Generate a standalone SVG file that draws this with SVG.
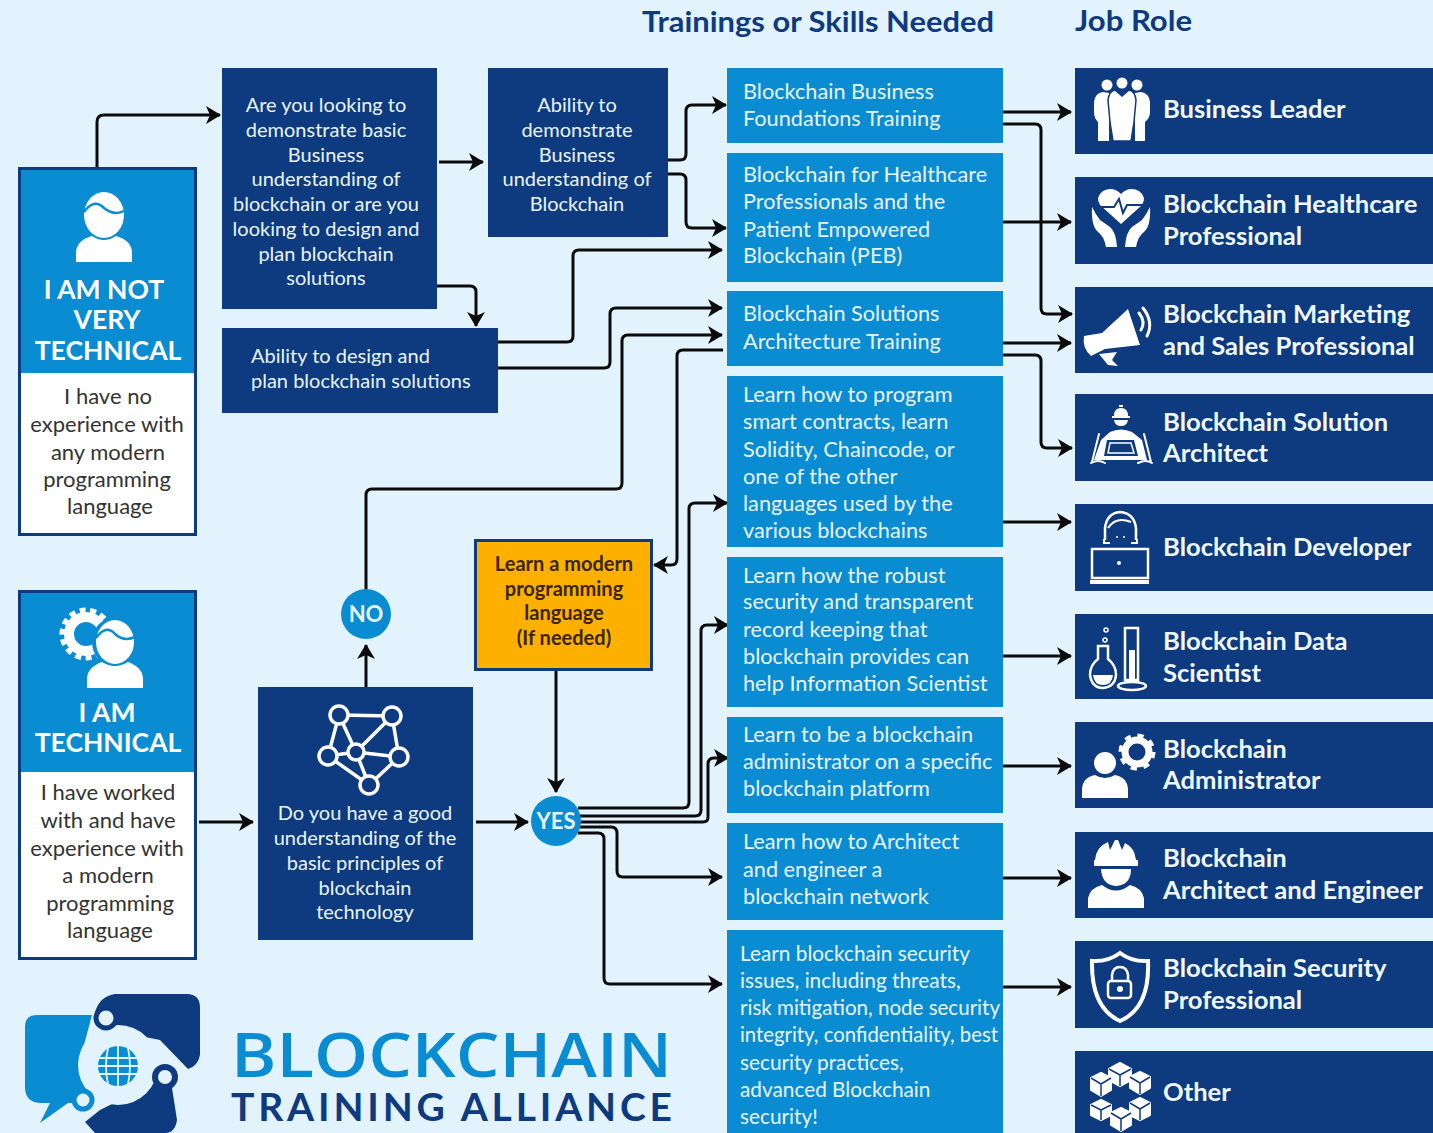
<svg xmlns="http://www.w3.org/2000/svg" width="1433" height="1133" viewBox="0 0 1433 1133">
<style>
text{font-family:"Lato","Open Sans","Liberation Sans",sans-serif}
.navy{fill:#0e3a80}.blue{fill:#0a8cd3}
.t{fill:#e8f5fd;font-size:20px;text-anchor:middle}
.b{fill:#e8f5fd;font-size:21.7px}
.s{fill:#e8f5fd;font-size:20.8px}
.j{fill:#eef8fe;font-size:25.6px;font-weight:700}
.h{fill:#fff;font-size:26.5px;font-weight:700;text-anchor:middle}
.d{fill:#333;font-size:22px;text-anchor:middle}
.o{fill:#3a2508;font-size:20px;font-weight:700;text-anchor:middle}
.c{fill:none;stroke:#0b0b0b;stroke-width:3;stroke-linejoin:round}
.w{fill:#fff}.ln{fill:none;stroke:#fff;stroke-width:3;stroke-linecap:round;stroke-linejoin:round}
.title{fill:#0e3a80;font-size:28px;font-weight:700}
</style>
<defs>
<marker id="a" markerUnits="userSpaceOnUse" markerWidth="18" markerHeight="20" refX="14" refY="9" orient="auto"><path d="M0 0L15 9L0 18L4 9Z" fill="#0b0b0b"/></marker>
</defs>
<rect width="1433" height="1133" fill="#e2f3fd"/>
<text class="title" x="642" y="32" textLength="352" lengthAdjust="spacingAndGlyphs">Trainings or Skills Needed</text>
<text class="title" x="1075" y="31" textLength="117" lengthAdjust="spacingAndGlyphs">Job Role</text>

<g id="connectors">
<path class="c" d="M97 167V122Q97 115 104 115H220" marker-end="url(#a)"/>
<path class="c" d="M439 162H483" marker-end="url(#a)"/>
<path class="c" d="M437 286H470Q476 286 476 292V326" marker-end="url(#a)"/>
<path class="c" d="M668 160H680Q686 160 686 154V111Q686 105 692 105H726" marker-end="url(#a)"/>
<path class="c" d="M668 174H680Q686 174 686 180V222Q686 228 692 228H726" marker-end="url(#a)"/>
<path class="c" d="M497 342H567Q573 342 573 336V256Q573 250 579 250H722" marker-end="url(#a)"/>
<path class="c" d="M497 368H604Q610 368 610 362V314Q610 308 616 308H722" marker-end="url(#a)"/>
<path class="c" d="M366 590V495Q366 489 372 489H616Q622 489 622 483V341Q622 335 628 335H722" marker-end="url(#a)"/>
<path class="c" d="M723 350H683Q677 350 677 356V559Q677 565 671 565H654" marker-end="url(#a)"/>
<path class="c" d="M556 670V792" marker-end="url(#a)"/>
<path class="c" d="M366 687V645" marker-end="url(#a)"/>
<path class="c" d="M199 822H253" marker-end="url(#a)"/>
<path class="c" d="M476 822H528" marker-end="url(#a)"/>
<path class="c" d="M578 808H683Q689 808 689 802V509Q689 503 695 503H727" marker-end="url(#a)"/>
<path class="c" d="M580 816H695Q701 816 701 810V631Q701 625 707 625H728" marker-end="url(#a)"/>
<path class="c" d="M580 822H703Q708 822 708 817V764Q708 758 714 758H728" marker-end="url(#a)"/>
<path class="c" d="M580 827H611Q617 827 617 833V871Q617 877 623 877H722" marker-end="url(#a)"/>
<path class="c" d="M578 833H598Q604 833 604 839V978Q604 984 610 984H722" marker-end="url(#a)"/>
<path class="c" d="M1003 112H1071" marker-end="url(#a)"/>
<path class="c" d="M1003 124H1035Q1041 124 1041 130V308Q1041 314 1047 314H1072" marker-end="url(#a)"/>
<path class="c" d="M1003 222H1071" marker-end="url(#a)"/>
<path class="c" d="M1003 343H1071" marker-end="url(#a)"/>
<path class="c" d="M1003 355H1035Q1041 355 1041 361V442Q1041 448 1047 448H1072" marker-end="url(#a)"/>
<path class="c" d="M1003 522H1071" marker-end="url(#a)"/>
<path class="c" d="M1003 656H1071" marker-end="url(#a)"/>
<path class="c" d="M1003 766H1071" marker-end="url(#a)"/>
<path class="c" d="M1003 878H1071" marker-end="url(#a)"/>
<path class="c" d="M1003 987H1071" marker-end="url(#a)"/>
</g>

<g id="not-technical">
<rect x="19.5" y="168.5" width="176" height="366" fill="#fff" stroke="#0e3a80" stroke-width="3"/>
<rect x="21" y="170" width="173" height="203" class="blue"/>
<ellipse cx="104" cy="215" rx="20" ry="23" class="w"/>
<path class="w" d="M76 262V252Q77 240 92 236Q104 244 116 236Q131 240 132 252V262Z"/>
<path d="M84 212Q94 198 104 208Q114 216 124 211" fill="none" stroke="#0a8cd3" stroke-width="2.5"/>
<text class="h" x="104" y="299">I AM NOT</text><text class="h" x="107" y="329">VERY</text><text class="h" x="108" y="360">TECHNICAL</text>
<text class="d" x="108" y="404">I have no</text><text class="d" x="107" y="432">experience with</text><text class="d" x="108" y="460">any modern</text><text class="d" x="107" y="487">programming</text><text class="d" x="110" y="514">language</text>
</g>

<g id="technical">
<rect x="19.5" y="591.5" width="176" height="367" fill="#fff" stroke="#0e3a80" stroke-width="3"/>
<rect x="21" y="593" width="173" height="179" class="blue"/>
<circle cx="86" cy="634" r="17" fill="none" stroke="#fff" stroke-width="10"/>
<circle cx="86" cy="634" r="24" fill="none" stroke="#fff" stroke-width="5" stroke-dasharray="6 4.6"/>
<ellipse cx="115" cy="642" rx="23" ry="25" class="blue"/>
<ellipse cx="115" cy="642" rx="19" ry="22" class="w"/>
<path class="w" d="M87 688V678Q88 667 102 662Q115 670 128 662Q142 667 143 678V688Z"/>
<path d="M96 638Q106 624 115 634Q124 642 135 637" fill="none" stroke="#0a8cd3" stroke-width="2.5"/>
<text class="h" x="107" y="722">I AM</text><text class="h" x="108" y="752">TECHNICAL</text>
<text class="d" x="108" y="800">I have worked</text><text class="d" x="108" y="828">with and have</text><text class="d" x="107" y="856">experience with</text><text class="d" x="108" y="883">a modern</text><text class="d" x="110" y="911">programming</text><text class="d" x="110" y="938">language</text>
</g>

<g id="q-demonstrate">
<rect x="222" y="68" width="215" height="241" class="navy"/>
<text class="t" x="326" y="112">Are you looking to</text><text class="t" x="326" y="137">demonstrate basic</text><text class="t" x="326" y="162">Business</text><text class="t" x="326" y="186">understanding of</text><text class="t" x="326" y="211">blockchain or are you</text><text class="t" x="326" y="236">looking to design and</text><text class="t" x="326" y="261">plan blockchain</text><text class="t" x="326" y="285">solutions</text>
</g>
<g id="ability-business">
<rect x="488" y="68" width="180" height="169" class="navy"/>
<text class="t" x="577" y="112">Ability to</text><text class="t" x="577" y="137">demonstrate</text><text class="t" x="577" y="162">Business</text><text class="t" x="577" y="186">understanding of</text><text class="t" x="577" y="211">Blockchain</text>
</g>
<g id="ability-design">
<rect x="222" y="328" width="276" height="85" class="navy"/>
<text class="t" x="251" y="363" style="text-anchor:start">Ability to  design and</text><text class="t" x="251" y="388" style="text-anchor:start">plan blockchain solutions</text>
</g>
<g id="q-understanding">
<rect x="258" y="687" width="215" height="253" class="navy"/>
<path d="M339 715L392 716L399 757L369 785L328 756ZM339 715L356 752L392 716M328 756L356 752L399 757M356 752L369 785" fill="none" stroke="#fff" stroke-width="3.5"/>
<g fill="#0e3a80" stroke="#fff" stroke-width="3.5"><circle cx="339" cy="715" r="9"/><circle cx="392" cy="716" r="9"/><circle cx="328" cy="756" r="9"/><circle cx="356" cy="752" r="8"/><circle cx="399" cy="757" r="9"/><circle cx="369" cy="785" r="9"/></g>
<text class="t" x="365" y="820">Do you have a good</text><text class="t" x="365" y="845">understanding of the</text><text class="t" x="365" y="870">basic principles of</text><text class="t" x="365" y="895">blockchain</text><text class="t" x="365" y="919">technology</text>
</g>
<g id="learn-language">
<rect x="475.500" y="540.500" width="176" height="129" fill="#fdb000" stroke="#0e3a80" stroke-width="3"/>
<text class="o" x="564" y="571">Learn a modern</text><text class="o" x="564" y="596">programming</text><text class="o" x="564" y="620">language</text><text class="o" x="564" y="645">(If needed)</text>
</g>
<g id="no"><circle cx="366" cy="614" r="25" class="blue"/><text x="366" y="622" fill="#e8f5fd" font-size="22" font-weight="700" text-anchor="middle">NO</text></g>
<g id="yes"><circle cx="556" cy="821" r="25" class="blue"/><text x="556" y="829" fill="#e8f5fd" font-size="22" font-weight="700" text-anchor="middle">YES</text></g>

<g id="t1"><rect x="727" y="68" width="276" height="75" class="blue"/><text class="b" x="743" y="99">Blockchain Business</text><text class="b" x="743" y="126">Foundations Training</text></g>
<g id="t2"><rect x="727" y="153" width="276" height="129" class="blue"/><text class="b" x="743" y="182">Blockchain for Healthcare</text><text class="b" x="743" y="209">Professionals and the</text><text class="b" x="743" y="237">Patient Empowered</text><text class="b" x="743" y="263">Blockchain (PEB)</text></g>
<g id="t3"><rect x="727" y="291" width="276" height="75" class="blue"/><text class="b" x="743" y="321">Blockchain Solutions</text><text class="b" x="743" y="349">Architecture Training</text></g>
<g id="t4"><rect x="727" y="376" width="276" height="171" class="blue"/><text class="b" x="743" y="402">Learn how to program</text><text class="b" x="743" y="429">smart contracts, learn</text><text class="b" x="743" y="457">Solidity, Chaincode,  or</text><text class="b" x="743" y="484">one of the other</text><text class="b" x="743" y="511">languages used by the</text><text class="b" x="743" y="538">various blockchains</text></g>
<g id="t5"><rect x="727" y="557" width="276" height="150" class="blue"/><text class="b" x="743" y="583">Learn how the robust</text><text class="b" x="743" y="609">security and transparent</text><text class="b" x="743" y="637">record keeping that</text><text class="b" x="743" y="664">blockchain provides can</text><text class="b" x="743" y="691">help Information Scientist</text></g>
<g id="t6"><rect x="727" y="717" width="276" height="96" class="blue"/><text class="b" x="743" y="742">Learn to be a blockchain</text><text class="b" x="743" y="769">administrator on a specific</text><text class="b" x="743" y="796">blockchain platform</text></g>
<g id="t7"><rect x="727" y="823" width="276" height="97" class="blue"/><text class="b" x="743" y="849">Learn how to Architect</text><text class="b" x="743" y="877">and engineer a</text><text class="b" x="743" y="904">blockchain network</text></g>
<g id="t8"><rect x="727" y="930" width="276" height="203" class="blue"/><text class="s" x="740" y="961">Learn blockchain security</text><text class="s" x="740" y="988">issues, including threats,</text><text class="s" x="740" y="1015" textLength="260" lengthAdjust="spacingAndGlyphs">risk mitigation, node security</text><text class="s" x="740" y="1042" textLength="258" lengthAdjust="spacingAndGlyphs">integrity, confidentiality, best</text><text class="s" x="740" y="1070">security practices,</text><text class="s" x="740" y="1097">advanced Blockchain</text><text class="s" x="740" y="1124">security!</text></g>

<g id="r1"><rect x="1075" y="68" width="358" height="86" class="navy"/>
<circle cx="1107" cy="85" r="5.500" class="w"/><circle cx="1122" cy="83" r="5.500" class="w"/><circle cx="1137" cy="85" r="5.500" class="w"/>
<path class="w" d="M1094 102Q1095 93 1103 92L1109 93L1109 141H1098V122Q1094 118 1094 112ZM1150 102Q1149 93 1141 92L1135 93L1135 141H1145V122Q1150 118 1150 112Z"/>
<path class="w" stroke="#0e3a80" stroke-width="1.500" d="M1108 100Q1109 91 1115 90L1122 96L1129 90Q1135 91 1136 100L1134 122L1131 141H1113L1110 122Z"/>
<text class="j" x="1163" y="118">Business Leader</text></g>
<g id="r2"><rect x="1075" y="177" width="358" height="87" class="navy"/>
<path class="w" d="M1121 224L1100 205Q1095 197 1103 191Q1113 186 1121 194Q1129 186 1139 191Q1147 197 1142 205Z"/>
<path fill="none" stroke="#0e3a80" stroke-width="2" d="M1099 207H1114L1119 199L1123 213L1127 205H1144"/>
<path class="w" d="M1092 207Q1096 215 1100 220L1110 227Q1116 232 1117 247H1106Q1104 236 1098 232Q1091 226 1092 207ZM1150 207Q1146 215 1142 220L1132 227Q1126 232 1125 247H1136Q1138 236 1144 232Q1151 226 1150 207Z"/>
<text class="j" x="1163" y="213">Blockchain Healthcare</text><text class="j" x="1163" y="245">Professional</text></g>
<g id="r3"><rect x="1075" y="287" width="358" height="86" class="navy"/>
<path class="w" d="M1084 336L1102 333L1128 309L1140 345L1105 349L1091 356Q1082 348 1084 336ZM1099 354L1117 352L1112 360L1118 366L1108 365Z"/>
<path class="ln" d="M1139 313Q1146 322 1141 330M1143 308Q1154 322 1147 336"/>
<text class="j" x="1163" y="323">Blockchain Marketing</text><text class="j" x="1163" y="355">and Sales Professional</text></g>
<g id="r4"><rect x="1075" y="394" width="358" height="87" class="navy"/>
<path class="w" d="M1114 416Q1114 408 1121 408Q1128 408 1128 416H1130V418H1112V416ZM1114 420H1128Q1127 426 1121 426Q1115 426 1114 420ZM1119 405H1123V407H1119Z"/>
<path class="w" d="M1110 432Q1121 427 1132 432L1142 440L1147 460H1094L1101 440Z"/>
<path d="M1107 440H1134L1138 456H1104Z" fill="#0e3a80"/><path d="M1110 443H1131L1134 453H1108Z" fill="none" stroke="#fff" stroke-width="1.500"/>
<path class="ln" style="stroke-width:2" d="M1099 434L1092 462M1144 434L1151 462M1091 463Q1098 459 1105 463M1138 463Q1146 459 1152 463"/>
<text class="j" x="1163" y="431">Blockchain Solution</text><text class="j" x="1163" y="462">Architect</text></g>
<g id="r5"><rect x="1075" y="504" width="358" height="87" class="navy"/>
<path d="M1105 540V528Q1107 513 1120 512Q1134 513 1136 528V540" fill="none" stroke="#fff" stroke-width="2.500"/>
<path d="M1108 528Q1116 516 1131 522" fill="none" stroke="#fff" stroke-width="2"/>
<path d="M1104 539V543H1110M1137 539V543H1131" fill="none" stroke="#fff" stroke-width="2"/>
<circle cx="1117" cy="537" r="1" class="w"/><circle cx="1124" cy="537" r="1" class="w"/>
<rect x="1092" y="549" width="56" height="29" fill="none" stroke="#fff" stroke-width="2.500"/>
<path class="w" d="M1090 580H1149V584H1090Z"/><circle cx="1119" cy="563" r="2" class="w"/>
<text class="j" x="1163" y="556">Blockchain Developer</text></g>
<g id="r6"><rect x="1075" y="614" width="358" height="85" class="navy"/>
<circle cx="1106" cy="630" r="2" fill="none" stroke="#fff" stroke-width="1.500"/><circle cx="1105" cy="640" r="2" fill="none" stroke="#fff" stroke-width="1.500"/>
<path fill="none" stroke="#fff" stroke-width="2.500" d="M1098 646V659Q1090 665 1090 675Q1092 688 1103 688Q1115 687 1116 675Q1116 665 1108 659V646Z"/>
<path class="w" d="M1093 675H1113Q1112 685 1103 685Q1094 685 1093 675Z"/>
<path fill="none" stroke="#fff" stroke-width="2.500" d="M1125 628H1138V680H1125Z"/><rect x="1129" y="650" width="6" height="30" class="w"/>
<ellipse cx="1132" cy="686" rx="14" ry="4" fill="none" stroke="#fff" stroke-width="2.500"/>
<text class="j" x="1163" y="650">Blockchain Data</text><text class="j" x="1163" y="682">Scientist</text></g>
<g id="r7"><rect x="1075" y="722" width="358" height="86" class="navy"/>
<circle cx="1105" cy="763" r="11" class="w"/><path class="w" d="M1082 798V789Q1083 777 1095 775Q1105 781 1115 775Q1127 777 1128 789V798Z"/>
<circle cx="1137" cy="752" r="12" fill="none" stroke="#fff" stroke-width="7"/><circle cx="1137" cy="752" r="16" fill="none" stroke="#fff" stroke-width="5" stroke-dasharray="6 6.560"/>
<text class="j" x="1163" y="758">Blockchain</text><text class="j" x="1163" y="789">Administrator</text></g>
<g id="r8"><rect x="1075" y="832" width="358" height="86" class="navy"/>
<path class="w" d="M1095 860Q1096 847 1108 842L1110 850L1115 840H1118L1122 850L1125 843Q1135 848 1136 860H1138V866H1094V860Z"/>
<path class="w" d="M1101 869H1131Q1131 885 1116 886Q1102 885 1101 869Z"/>
<path class="w" d="M1088 908V898Q1090 888 1102 885Q1116 896 1130 885Q1142 888 1144 898V908Z"/>
<text class="j" x="1163" y="867">Blockchain</text><text class="j" x="1163" y="899">Architect and Engineer</text></g>
<g id="r9"><rect x="1075" y="941" width="358" height="87" class="navy"/>
<path fill="none" stroke="#fff" stroke-width="4" d="M1120 953Q1132 962 1148 961Q1150 1008 1120 1021Q1091 1008 1092 961Q1108 962 1120 953Z"/>
<rect x="1108" y="981" width="23" height="17" rx="3" fill="none" stroke="#fff" stroke-width="2.500"/>
<path d="M1112 981V975Q1113 967 1120 967Q1127 967 1128 975V981" fill="none" stroke="#fff" stroke-width="2.500"/><circle cx="1120" cy="989" r="3" class="w"/>
<text class="j" x="1163" y="977">Blockchain Security</text><text class="j" x="1163" y="1009">Professional</text></g>
<g id="r10"><rect x="1075" y="1051" width="358" height="82" class="navy"/>
<g fill="none" stroke="#fff" stroke-width="2" stroke-linejoin="round">
<path fill="#fff" d="M1120 1063L1131 1069V1080L1120 1086L1109 1080V1069Z"/><path d="M1109 1069L1120 1075L1131 1069M1120 1075V1086" stroke="#0e3a80" stroke-width="1.500"/>
<path fill="#fff" d="M1140 1072L1150 1077V1088L1140 1094L1130 1088V1077Z"/><path d="M1130 1077L1140 1083L1150 1077M1140 1083V1094" stroke="#0e3a80" stroke-width="1.500"/>
<path fill="#fff" d="M1101 1073L1111 1078V1090L1101 1096L1091 1090V1078Z"/><path d="M1091 1078L1101 1084L1111 1078M1101 1084V1096" stroke="#0e3a80" stroke-width="1.500"/>
<path fill="#fff" d="M1101 1100L1111 1105V1115L1101 1120L1091 1115V1105Z"/><path d="M1091 1105L1101 1110L1111 1105M1101 1110V1120" stroke="#0e3a80" stroke-width="1.500"/>
<path fill="#fff" d="M1140 1098L1150 1103V1115L1140 1120L1130 1115V1103Z"/><path d="M1130 1103L1140 1109L1150 1103M1140 1109V1120" stroke="#0e3a80" stroke-width="1.500"/>
<path fill="#fff" d="M1121 1108L1131 1113V1125L1121 1131L1111 1125V1113Z"/><path d="M1111 1113L1121 1119L1131 1113M1121 1119V1131" stroke="#0e3a80" stroke-width="1.500"/>
</g>
<text class="j" x="1163" y="1101">Other</text></g>

<g id="logo">
<path class="blue" d="M92 1015H37Q25 1015 25 1027V1087Q25 1102 40 1103H50L40 1123L68 1103H92L80 1060Z"/>
<path class="navy" d="M115 994H187Q200 994 200 1008V1055Q198 1066 188 1069L160 1040L100 1028L95 1012Q100 996 115 994Z"/>
<path class="navy" d="M170 1075L177 1120Q175 1133 165 1133H95L85 1122L100 1110Z"/>
<circle cx="118" cy="1065" r="40" fill="#e2f3fd"/>
<circle cx="118" cy="1066" r="20" class="blue"/>
<path d="M98 1058H138M98 1066H138M98 1074H138M118 1046V1086M108 1048Q104 1066 108 1084M128 1048Q132 1066 128 1084" fill="none" stroke="#e2f3fd" stroke-width="1.800"/>
<circle cx="106" cy="1018" r="10" fill="#e2f3fd" stroke="#0e3a80" stroke-width="5"/>
<circle cx="165" cy="1077" r="10" fill="#e2f3fd" stroke="#0e3a80" stroke-width="6"/>
<circle cx="83" cy="1100" r="9" fill="#e2f3fd" stroke="#0a8cd3" stroke-width="5"/>
<text x="231" y="1077" fill="#0a8cd3" font-size="62" font-weight="600" style="font-family:'Open Sans',sans-serif" textLength="441" lengthAdjust="spacingAndGlyphs">BLOCKCHAIN</text>
<text x="231" y="1121" fill="#0e3a80" font-size="39" font-weight="700" textLength="441" lengthAdjust="spacing">TRAINING ALLIANCE</text>
</g>
</svg>
